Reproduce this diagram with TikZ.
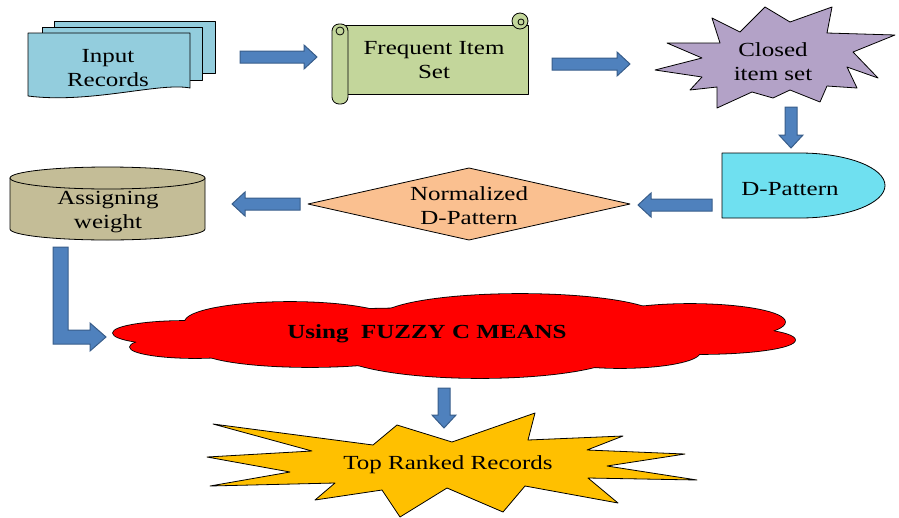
\documentclass[tikz,border=0pt]{standalone}
\usepackage{fontspec}
\setmainfont{Liberation Serif}[FakeStretch=1.25]
\usetikzlibrary{calc}

\definecolor{arrowfill}{RGB}{79,129,189}
\definecolor{arrowline}{RGB}{56,93,138}
\definecolor{recblue}{RGB}{147,205,221}
\definecolor{scrollgreen}{RGB}{195,214,155}
\definecolor{closedpurple}{RGB}{179,162,199}
\definecolor{dcyan}{RGB}{111,224,240}
\definecolor{normpeach}{RGB}{250,192,144}
\definecolor{weighttan}{RGB}{196,189,151}
\definecolor{rankgold}{RGB}{255,192,0}

\tikzset{
  shapeline/.style={draw=black, line width=0.8pt, line join=round},
  boxtext/.style={font=\fontsize{20}{24}\selectfont, align=center, inner sep=0pt},
  blockarrow/.style={draw=arrowline, fill=arrowfill, line width=1pt,
    to path={let \p1=(\tikztostart), \p2=(\tikztotarget),
      \n1={atan2(\y2-\y1,\x2-\x1)}, \n2={veclen(\x2-\x1,\y2-\y1)} in
      ({\x1-6*sin(\n1)},{\y1+6*cos(\n1)})
      -- ({\x1+(\n2-13)*cos(\n1)-6*sin(\n1)},{\y1+(\n2-13)*sin(\n1)+6*cos(\n1)})
      -- ({\x1+(\n2-13)*cos(\n1)-12*sin(\n1)},{\y1+(\n2-13)*sin(\n1)+12*cos(\n1)})
      -- (\x2,\y2)
      -- ({\x1+(\n2-13)*cos(\n1)+12*sin(\n1)},{\y1+(\n2-13)*sin(\n1)-12*cos(\n1)})
      -- ({\x1+(\n2-13)*cos(\n1)+6*sin(\n1)},{\y1+(\n2-13)*sin(\n1)-6*cos(\n1)})
      -- ({\x1+6*sin(\n1)},{\y1-6*cos(\n1)})
      -- cycle}},
}

\def\cloudparts{185/333/72/12, 195/347/65/11, 290/322/105/20, 310/350/110/17,
  520/318/140/24, 480/350/145/28, 690/322/95/18, 700/340/95/14, 620/352/80/16,
  450/333/300/25}

\begin{document}
\begin{tikzpicture}[x=1pt,y=-1pt]
\useasboundingbox (0,0) rectangle (899,517);

% input records
\draw[shapeline, fill=recblue] (54,21) rectangle (215,73);
\draw[shapeline, fill=recblue] (42,27) rectangle (202,80);
\draw[shapeline, fill=recblue] (28,33) -- (190,33) -- (190,88) .. controls (160,82) and (90,104) .. (28,96) -- cycle;
\node[boxtext] (inrec) at (108,68) {Input\\Records};

% scroll
\draw[shapeline, fill=scrollgreen] (340,25) rectangle (528,94);
\draw[shapeline, fill=scrollgreen] (520,21) circle (8);
\draw[shapeline] (521,22) circle (3);
\draw[shapeline, fill=scrollgreen, rounded corners=7pt] (332,24) rectangle (348,104);
\draw[shapeline] (340,31) circle (4);
\node[boxtext] (freqset) at (434,60) {Frequent Item\\Set};

\draw[shapeline, fill=closedpurple] (667,43) -- (720,43) -- (712,18) -- (740,32) -- (765,7) -- (790,22) -- (832,7) -- (827,33) -- (895,35) -- (853,52) -- (878,78) -- (847,67) -- (857,88) -- (827,86) -- (820,102) -- (790,90) -- (773,98) -- (752,92) -- (717,108) -- (717,87) -- (690,90) -- (702,77) -- (655,70) -- (702,58) -- cycle;
\node[boxtext] (closedset) at (773,62) {Closed\\item set};

\draw[shapeline, fill=dcyan] (722,153) -- (800,153) arc[start angle=-90, end angle=90, x radius=85, y radius=32.5] -- (722,218) -- cycle;
\node[boxtext] (dpat) at (790,189) {D-Pattern};

\draw[shapeline, fill=normpeach] (308,204) -- (469,168) -- (630,204) -- (469,240) -- cycle;
\node[boxtext] (normdpat) at (469,206) {Normalized\\D-Pattern};

\draw[shapeline, fill=weighttan] (10,178) -- (10,229) arc[start angle=180, end angle=0, x radius=97.5, y radius=11] -- (205,178) -- cycle;
\draw[shapeline, fill=weighttan] (107.5,178) ellipse[x radius=97.5, y radius=11];
\node[boxtext] (aweight) at (108,212) {Assigning\\weight};

% cloud: outline first, then fill over the inner lines
\foreach \cx/\cy/\rx/\ry in \cloudparts
  \draw[line width=1.6pt, fill=red] (\cx,\cy) ellipse[x radius=\rx, y radius=\ry];
\foreach \cx/\cy/\rx/\ry in \cloudparts
  \fill[red] (\cx,\cy) ellipse[x radius=\rx, y radius=\ry];
\node[boxtext, font=\fontsize{20}{24}\selectfont\bfseries] (fcm) at (427,334) {Using~~FUZZY C MEANS};

\draw[shapeline, fill=rankgold] (213,424) -- (373,445) -- (397,425) -- (452,442) -- (535,413) -- (528,440) -- (623,436) -- (587,450) -- (685,454) -- (607,466) -- (697,480) -- (588,478) -- (618,503) -- (525,486) -- (503,512) -- (447,488) -- (400,517) -- (382,490) -- (315,500) -- (335,483) -- (210,486) -- (290,472) -- (207,457) -- (312,451) -- cycle;
\node[boxtext] (topranked) at (448,465) {Top Ranked Records};

\coordinate (a1s) at (240,57);  \coordinate (a1e) at (317,57);
\coordinate (a2s) at (552,64);  \coordinate (a2e) at (630,64);
\coordinate (a3s) at (791,107); \coordinate (a3e) at (791,148);
\coordinate (a4s) at (712,205); \coordinate (a4e) at (638,205);
\coordinate (a5s) at (300,204); \coordinate (a5e) at (232,204);
\coordinate (a6s) at (444,388); \coordinate (a6e) at (444,428);
\coordinate (wdown) at (60.5,247); \coordinate (wtip) at (106,337);

\draw[blockarrow] (a1s) to (a1e);
\draw[blockarrow] (a2s) to (a2e);
\draw[blockarrow] (a3s) to (a3e);
\draw[blockarrow] (a4s) to (a4e);
\draw[blockarrow] (a5s) to (a5e);
\draw[blockarrow] (a6s) to (a6e);
\draw[draw=arrowline, fill=arrowfill, line width=1pt] ([xshift=-7.5pt]wdown) -- ++(15,0) -- ++(0,83) -- ++(22,0) -- ++(0,-7) -- (wtip) -- ++(-16,14) -- ++(0,-7) -- ++(-37,0) -- cycle;
\end{tikzpicture}
\end{document}
